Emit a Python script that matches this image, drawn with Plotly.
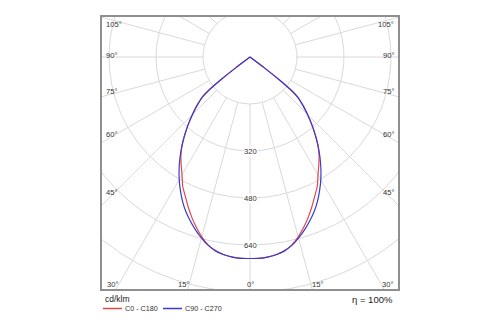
import numpy as np
import plotly.graph_objects as go

# Luminous intensity distribution (cd/klm) versus gamma angle (degrees)
gamma = [0, 2.5, 5, 7.5, 10, 12.5, 15, 17.5, 20, 22.5, 25, 27.5, 30, 32.5,
         35, 37.5, 40, 42.5, 45, 47.5, 50, 51, 52, 53, 54]
c0_c180 = [686, 686, 684, 679, 670, 656, 634, 608, 580, 551, 522, 496, 463, 436,
           410, 381, 346, 311, 277, 245, 212, 185, 130, 60, 0]
c90_c270 = [686, 686, 684, 679, 671, 657, 638, 617, 594, 570, 543, 513, 482, 449,
            415, 380, 345, 311, 277, 245, 212, 185, 130, 60, 0]

series_names = ["C0 - C180", "C90 - C270"]
series_colors = ["#e04848", "#3a3ad2"]

radial_ticks = [160, 320, 480, 640, 800, 960]
radial_labels = ["320", "480", "640"]
spoke_step = 15

# Angle labels around the frame
side_labels = ["105°", "90°", "75°", "60°", "45°"]
bottom_labels = ["30°", "15°", "0°", "15°", "30°"]
efficiency = "η = 100%"
unit_label = "cd/klm"

W, H = 500, 325
# frame in pixels and pole position
FX0, FX1, FY0, FY1 = 102, 398, 17, 289
CX, CY = 250, 57
SCALE = 47 / 160.0  # pixels per cd/klm


def to_xy(theta_deg, r):
    t = np.radians(np.asarray(theta_deg, dtype=float))
    r = np.asarray(r, dtype=float)
    return r * np.sin(t), -r * np.cos(t)


def px(x):
    return x / W


def py(y):
    return 1 - y / H


fig = go.Figure()

# grid circles
theta_full = np.linspace(0, 360, 721)
gx, gy = [], []
for rr in radial_ticks:
    x, y = to_xy(theta_full, np.full_like(theta_full, rr))
    gx += list(x) + [None]
    gy += list(y) + [None]
fig.add_trace(go.Scatter(x=gx, y=gy, mode="lines", hoverinfo="skip",
                         line=dict(color="#d9d9d9", width=1), showlegend=False))

# spokes, starting at the innermost circle
sx, sy = [], []
for a in range(0, 360, spoke_step):
    x, y = to_xy([a, a], [radial_ticks[0], 1400])
    sx += list(x) + [None]
    sy += list(y) + [None]
fig.add_trace(go.Scatter(x=sx, y=sy, mode="lines", hoverinfo="skip",
                         line=dict(color="#d9d9d9", width=1), showlegend=False))

# intensity curves: right half one C-plane, left half the opposite plane;
# each half is its own smoothed path so the apex at the pole stays sharp
for vals, name, col in zip([c0_c180, c90_c270], series_names, series_colors):
    g = np.array(gamma, dtype=float)
    v = np.array(vals, dtype=float)
    for sign in (-1, 1):
        x, y = to_xy(sign * g, v)
        fig.add_trace(go.Scatter(x=x, y=y, mode="lines", name=name, legendgroup=name,
                                 line=dict(color=col, width=1.2, shape="spline", smoothing=0.6),
                                 showlegend=False))

ann = []
font_small = dict(family="Liberation Sans, Arial, sans-serif", size=7.6, color="#333333")
font_legend = dict(family="Liberation Sans, Arial, sans-serif", size=7.2, color="#333333")

# radial value labels along the 0° spoke
for lab in radial_labels:
    v = float(lab)
    ann.append(dict(x=0, y=-v, xref="x", yref="y", text=lab, showarrow=False,
                    font=font_small, bgcolor="white", borderpad=0,
                    xanchor="center", yanchor="middle"))

# side angle labels
side_y = [24, 56, 92, 134, 192]
for lab, yy in zip(side_labels, side_y):
    ann.append(dict(x=px(FX0 + 2), y=py(yy), xref="paper", yref="paper", text=lab,
                    showarrow=False, font=font_small, xanchor="left", yanchor="middle"))
    ann.append(dict(x=px(FX1 - 2), y=py(yy), xref="paper", yref="paper", text=lab,
                    showarrow=False, font=font_small, xanchor="right", yanchor="middle"))

# bottom angle labels
bottom_x = [(FX0 + 3, "left"), (183, "center"), (250, "center"), (317, "center"), (FX1 - 3, "right")]
for lab, (xx, anc) in zip(bottom_labels, bottom_x):
    ann.append(dict(x=px(xx), y=py(284), xref="paper", yref="paper", text=lab,
                    showarrow=False, font=font_small, xanchor=anc, yanchor="middle"))

# unit and efficiency text
ann.append(dict(x=px(103), y=py(299), xref="paper", yref="paper", text=unit_label,
                showarrow=False, xanchor="left", yanchor="middle",
                font=dict(family="Liberation Sans, Arial, sans-serif", size=8.5, color="#222222")))
ann.append(dict(x=px(395), y=py(299), xref="paper", yref="paper", text=efficiency,
                showarrow=False, xanchor="right", yanchor="middle",
                font=dict(family="Liberation Sans, Arial, sans-serif", size=9.5, color="#222222")))

# legend entries
shapes = []
legend_pos = [(103, 122), (163, 182)]
for name, col, (x0, x1) in zip(series_names, series_colors, legend_pos):
    shapes.append(dict(type="line", xref="paper", yref="paper",
                       x0=px(x0), x1=px(x1), y0=py(308.5), y1=py(308.5),
                       line=dict(color=col, width=1.5)))
    ann.append(dict(x=px(x1 + 1), y=py(308.5), xref="paper", yref="paper", text=name,
                    showarrow=False, xanchor="left", yanchor="middle", font=font_legend))

fig.update_layout(
    width=W, height=H,
    margin=dict(l=0, r=0, t=0, b=0),
    paper_bgcolor="white", plot_bgcolor="white",
    annotations=ann, shapes=shapes,
    xaxis=dict(domain=[px(FX0), px(FX1)],
               range=[(FX0 - CX) / SCALE, (FX1 - CX) / SCALE],
               showgrid=False, zeroline=False, showticklabels=False, ticks="",
               showline=True, mirror=True, linecolor="#8f8f8f", linewidth=2,
               fixedrange=True),
    yaxis=dict(domain=[py(FY1), py(FY0)],
               range=[-(FY1 - CY) / SCALE, (CY - FY0) / SCALE],
               showgrid=False, zeroline=False, showticklabels=False, ticks="",
               showline=True, mirror=True, linecolor="#8f8f8f", linewidth=2,
               fixedrange=True),
)

fig.write_html("out.html")
